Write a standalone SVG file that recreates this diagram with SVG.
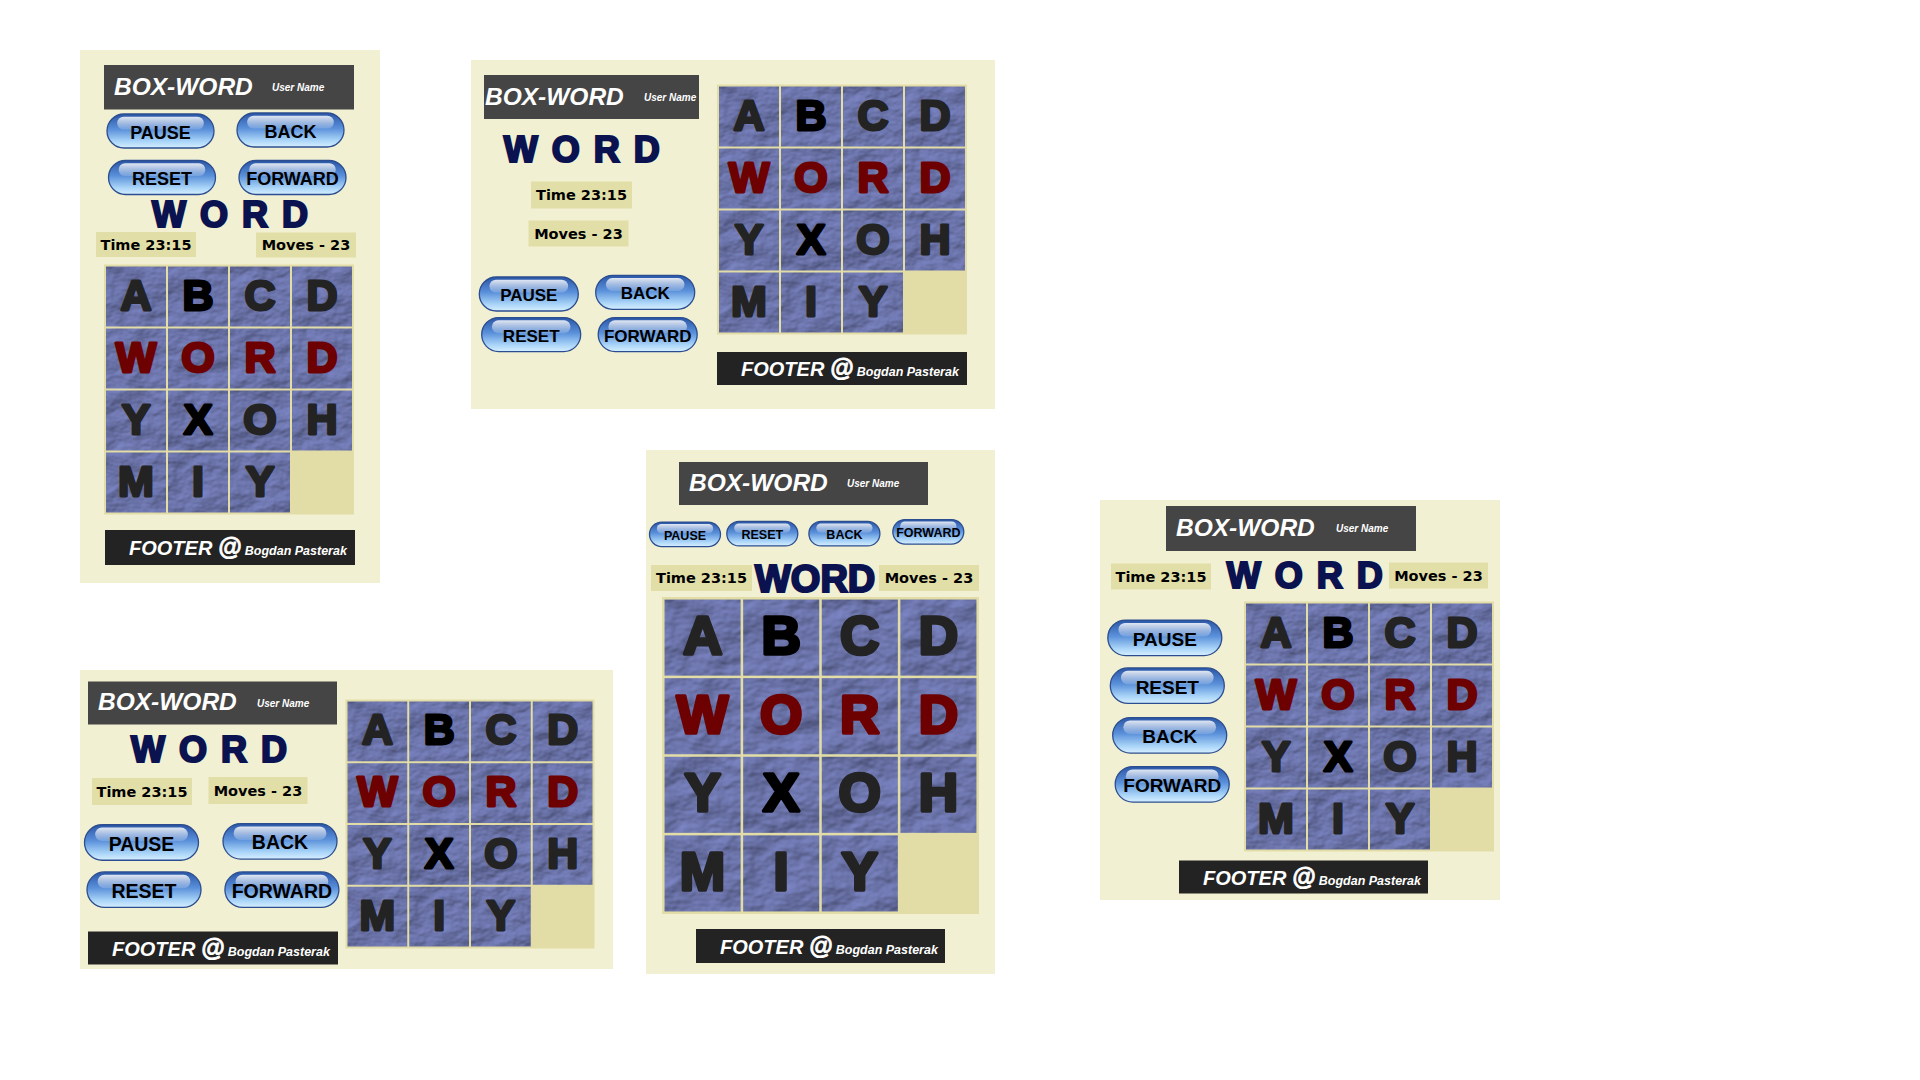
<svg xmlns="http://www.w3.org/2000/svg" width="1920" height="1080" viewBox="0 0 1920 1080">
<style>
.panel{fill:#f2f0d3}
.hdr{fill:#454545}
.ftr{fill:#232323}
.bw{font-family:"Liberation Sans",Arial,sans-serif;font-weight:bold;font-style:italic;fill:#fff;font-size:24.5px}
.un{font-family:"Liberation Sans",Arial,sans-serif;font-weight:bold;font-style:italic;fill:#fff;font-size:10px}
.ft{font-family:"Liberation Sans",Arial,sans-serif;font-weight:bold;font-style:italic;fill:#fff;font-size:20px}
.ft .at{font-size:24px;stroke:#fff;stroke-width:0.8}
.ft .nm{font-size:12.5px}
.info{fill:#e2dea8}
.it{font-family:"DejaVu Sans",Verdana,sans-serif;font-weight:bold;font-size:14.5px;fill:#000;text-anchor:middle}
.title{font-family:"Liberation Sans",Arial,sans-serif;font-weight:bold;fill:#0b1250;stroke:#0b1250;stroke-width:2.2;font-size:36px;letter-spacing:14px}
.bb{fill:url(#btnBody);stroke:#2c4d8f;stroke-width:1.3}
.bh{fill:url(#btnHi)}
.bl{font-family:"Liberation Sans",Arial,sans-serif;font-weight:bold;fill:#000;text-anchor:middle}
.gbg{fill:#e2dda6}
.cell{fill:#6c77b0}
.t{font-family:"Liberation Sans",Arial,sans-serif;font-weight:bold;font-size:43px;text-anchor:middle;fill:#232323;stroke:#232323;stroke-width:2.8;stroke-linejoin:round}
.k{fill:#000;stroke:#000}
.r{fill:#6d0000;stroke:#6d0000}
</style>
<defs>
<linearGradient id="btnBody" x1="0" y1="0" x2="0" y2="1">
<stop offset="0" stop-color="#2a56a6"/>
<stop offset="0.45" stop-color="#5a90da"/>
<stop offset="0.8" stop-color="#a9d4f8"/>
<stop offset="1" stop-color="#d6efff"/>
</linearGradient>
<linearGradient id="btnHi" x1="0" y1="0" x2="0" y2="1">
<stop offset="0" stop-color="#ffffff" stop-opacity="0.85"/>
<stop offset="1" stop-color="#ffffff" stop-opacity="0.15"/>
</linearGradient>
<filter id="stone" x="0" y="0" width="1" height="1" color-interpolation-filters="sRGB">
<feTurbulence type="fractalNoise" baseFrequency="0.028 0.04" numOctaves="4" seed="7" result="n"/>
<feDiffuseLighting in="n" surfaceScale="3" diffuseConstant="1" lighting-color="#7d87c6" result="lit">
<feDistantLight azimuth="235" elevation="58"/>
</feDiffuseLighting>
<feComposite in="lit" in2="SourceGraphic" operator="in"/>
</filter>
</defs>
<rect width="1920" height="1080" fill="#ffffff"/>

<!-- PANEL 1 -->
<g id="panel-1">
<rect class="panel" x="80" y="50" width="300" height="533"/>
<g id="p1-header"><rect class="hdr" x="104" y="65" width="250" height="44.5"/>
<text class="bw" x="114" y="94.5">BOX-WORD</text><text class="un" x="272" y="91">User Name</text></g>
<g id="p1-buttons">
<g transform="translate(160.5 131)"><rect class="bb" x="-53.5" y="-17" width="107" height="34" rx="17"/><rect class="bh" x="-43.3" y="-14.3" width="86.6" height="12.9" rx="6.45"/><text class="bl" y="7.5" font-size="18">PAUSE</text></g>
<g transform="translate(290.5 130)"><rect class="bb" x="-53.5" y="-17" width="107" height="34" rx="17"/><rect class="bh" x="-43.3" y="-14.3" width="86.6" height="12.9" rx="6.45"/><text class="bl" y="7.5" font-size="18">BACK</text></g>
<g transform="translate(162 177.5)"><rect class="bb" x="-53.5" y="-17" width="107" height="34" rx="17"/><rect class="bh" x="-43.3" y="-14.3" width="86.6" height="12.9" rx="6.45"/><text class="bl" y="7.5" font-size="18">RESET</text></g>
<g transform="translate(292.5 177.5)"><rect class="bb" x="-53.5" y="-17" width="107" height="34" rx="17"/><rect class="bh" x="-43.3" y="-14.3" width="86.6" height="12.9" rx="6.45"/><text class="bl" y="7.5" font-size="18">FORWARD</text></g>
</g>
<text class="title" x="152" y="226.5">WORD</text>
<rect class="info" x="96" y="232" width="100" height="25"/><text class="it" x="146" y="249.5">Time 23:15</text>
<rect class="info" x="256" y="232.5" width="100" height="25"/><text class="it" x="306" y="250">Moves - 23</text>
<g id="p1-grid" transform="translate(104 264.5)">
<rect class="gbg" width="250" height="250"/>
<g filter="url(#stone)">
<rect class="cell" x="2" y="2" width="60" height="60"/><rect class="cell" x="64" y="2" width="60" height="60"/><rect class="cell" x="126" y="2" width="60" height="60"/><rect class="cell" x="188" y="2" width="60" height="60"/>
<rect class="cell" x="2" y="64" width="60" height="60"/><rect class="cell" x="64" y="64" width="60" height="60"/><rect class="cell" x="126" y="64" width="60" height="60"/><rect class="cell" x="188" y="64" width="60" height="60"/>
<rect class="cell" x="2" y="126" width="60" height="60"/><rect class="cell" x="64" y="126" width="60" height="60"/><rect class="cell" x="126" y="126" width="60" height="60"/><rect class="cell" x="188" y="126" width="60" height="60"/>
<rect class="cell" x="2" y="188" width="60" height="60"/><rect class="cell" x="64" y="188" width="60" height="60"/><rect class="cell" x="126" y="188" width="60" height="60"/>
</g>
<text class="t" x="32" y="45">A</text><text class="t k" x="94" y="45">B</text><text class="t" x="156" y="45">C</text><text class="t" x="218" y="45">D</text>
<text class="t r" x="32" y="107">W</text><text class="t r" x="94" y="107">O</text><text class="t r" x="156" y="107">R</text><text class="t r" x="218" y="107">D</text>
<text class="t" x="32" y="169">Y</text><text class="t k" x="94" y="169">X</text><text class="t" x="156" y="169">O</text><text class="t" x="218" y="169">H</text>
<text class="t" x="32" y="231">M</text><text class="t" x="94" y="231">I</text><text class="t" x="156" y="231">Y</text>
</g>
<g id="p1-footer"><rect class="ftr" x="105" y="530" width="250" height="35"/>
<text class="ft" x="129" y="555">FOOTER <tspan class="at">@</tspan><tspan class="nm"> Bogdan Pasterak</tspan></text></g>
</g>

<!-- PANEL 2 -->
<g id="panel-2">
<rect class="panel" x="471" y="60" width="524" height="349"/>
<g id="p2-header"><rect class="hdr" x="484" y="75" width="215" height="44"/>
<text class="bw" x="485" y="104.5">BOX-WORD</text><text class="un" x="644" y="101">User Name</text></g>
<text class="title" x="503.7" y="161.8">WORD</text>
<rect class="info" x="531" y="181.5" width="101" height="27"/><text class="it" x="581.5" y="200">Time 23:15</text>
<rect class="info" x="528.5" y="220.5" width="100" height="26"/><text class="it" x="578.5" y="238.5">Moves - 23</text>
<g id="p2-buttons">
<g transform="translate(528.8 294)"><rect class="bb" x="-49.5" y="-17" width="99" height="34" rx="17"/><rect class="bh" x="-39.3" y="-14.3" width="78.6" height="12.9" rx="6.45"/><text class="bl" y="7.1" font-size="17">PAUSE</text></g>
<g transform="translate(645.2 292.3)"><rect class="bb" x="-49.5" y="-17" width="99" height="34" rx="17"/><rect class="bh" x="-39.3" y="-14.3" width="78.6" height="12.9" rx="6.45"/><text class="bl" y="7.1" font-size="17">BACK</text></g>
<g transform="translate(531.2 334.6)"><rect class="bb" x="-49.5" y="-17" width="99" height="34" rx="17"/><rect class="bh" x="-39.3" y="-14.3" width="78.6" height="12.9" rx="6.45"/><text class="bl" y="7.1" font-size="17">RESET</text></g>
<g transform="translate(647.7 334.6)"><rect class="bb" x="-49.5" y="-17" width="99" height="34" rx="17"/><rect class="bh" x="-39.3" y="-14.3" width="78.6" height="12.9" rx="6.45"/><text class="bl" y="7.1" font-size="17">FORWARD</text></g>
</g>
<g id="p2-grid" transform="translate(717 84.5)">
<rect class="gbg" width="250" height="250"/>
<g filter="url(#stone)">
<rect class="cell" x="2" y="2" width="60" height="60"/><rect class="cell" x="64" y="2" width="60" height="60"/><rect class="cell" x="126" y="2" width="60" height="60"/><rect class="cell" x="188" y="2" width="60" height="60"/>
<rect class="cell" x="2" y="64" width="60" height="60"/><rect class="cell" x="64" y="64" width="60" height="60"/><rect class="cell" x="126" y="64" width="60" height="60"/><rect class="cell" x="188" y="64" width="60" height="60"/>
<rect class="cell" x="2" y="126" width="60" height="60"/><rect class="cell" x="64" y="126" width="60" height="60"/><rect class="cell" x="126" y="126" width="60" height="60"/><rect class="cell" x="188" y="126" width="60" height="60"/>
<rect class="cell" x="2" y="188" width="60" height="60"/><rect class="cell" x="64" y="188" width="60" height="60"/><rect class="cell" x="126" y="188" width="60" height="60"/>
</g>
<text class="t" x="32" y="45">A</text><text class="t k" x="94" y="45">B</text><text class="t" x="156" y="45">C</text><text class="t" x="218" y="45">D</text>
<text class="t r" x="32" y="107">W</text><text class="t r" x="94" y="107">O</text><text class="t r" x="156" y="107">R</text><text class="t r" x="218" y="107">D</text>
<text class="t" x="32" y="169">Y</text><text class="t k" x="94" y="169">X</text><text class="t" x="156" y="169">O</text><text class="t" x="218" y="169">H</text>
<text class="t" x="32" y="231">M</text><text class="t" x="94" y="231">I</text><text class="t" x="156" y="231">Y</text>
</g>
<g id="p2-footer"><rect class="ftr" x="717" y="352" width="250" height="33"/>
<text class="ft" x="741" y="376">FOOTER <tspan class="at">@</tspan><tspan class="nm"> Bogdan Pasterak</tspan></text></g>
</g>

<!-- PANEL 3 -->
<g id="panel-3">
<rect class="panel" x="80" y="670" width="533" height="299"/>
<g id="p3-header"><rect class="hdr" x="88" y="681.5" width="249" height="43"/>
<text class="bw" x="98" y="710">BOX-WORD</text><text class="un" x="257" y="707">User Name</text></g>
<text class="title" x="131" y="762.3">WORD</text>
<rect class="info" x="92" y="778" width="100" height="27"/><text class="it" x="142" y="796.5">Time 23:15</text>
<rect class="info" x="208.5" y="777" width="99" height="27"/><text class="it" x="258" y="795.5">Moves - 23</text>
<g id="p3-buttons">
<g transform="translate(141.5 842.5)"><rect class="bb" x="-57" y="-17.75" width="114" height="35.5" rx="17.75"/><rect class="bh" x="-46.35" y="-14.91" width="92.7" height="13.49" rx="6.75"/><text class="bl" y="8" font-size="19.5">PAUSE</text></g>
<g transform="translate(280 841.3)"><rect class="bb" x="-57" y="-17.75" width="114" height="35.5" rx="17.75"/><rect class="bh" x="-46.35" y="-14.91" width="92.7" height="13.49" rx="6.75"/><text class="bl" y="8" font-size="19.5">BACK</text></g>
<g transform="translate(144 889.7)"><rect class="bb" x="-57" y="-17.75" width="114" height="35.5" rx="17.75"/><rect class="bh" x="-46.35" y="-14.91" width="92.7" height="13.49" rx="6.75"/><text class="bl" y="8" font-size="19.5">RESET</text></g>
<g transform="translate(281.9 889.7)"><rect class="bb" x="-57" y="-17.75" width="114" height="35.5" rx="17.75"/><rect class="bh" x="-46.35" y="-14.91" width="92.7" height="13.49" rx="6.75"/><text class="bl" y="8" font-size="19.5">FORWARD</text></g>
</g>
<g id="p3-grid" transform="translate(345.5 699.5) scale(0.996)">
<rect class="gbg" width="250" height="250"/>
<g filter="url(#stone)">
<rect class="cell" x="2" y="2" width="60" height="60"/><rect class="cell" x="64" y="2" width="60" height="60"/><rect class="cell" x="126" y="2" width="60" height="60"/><rect class="cell" x="188" y="2" width="60" height="60"/>
<rect class="cell" x="2" y="64" width="60" height="60"/><rect class="cell" x="64" y="64" width="60" height="60"/><rect class="cell" x="126" y="64" width="60" height="60"/><rect class="cell" x="188" y="64" width="60" height="60"/>
<rect class="cell" x="2" y="126" width="60" height="60"/><rect class="cell" x="64" y="126" width="60" height="60"/><rect class="cell" x="126" y="126" width="60" height="60"/><rect class="cell" x="188" y="126" width="60" height="60"/>
<rect class="cell" x="2" y="188" width="60" height="60"/><rect class="cell" x="64" y="188" width="60" height="60"/><rect class="cell" x="126" y="188" width="60" height="60"/>
</g>
<text class="t" x="32" y="45">A</text><text class="t k" x="94" y="45">B</text><text class="t" x="156" y="45">C</text><text class="t" x="218" y="45">D</text>
<text class="t r" x="32" y="107">W</text><text class="t r" x="94" y="107">O</text><text class="t r" x="156" y="107">R</text><text class="t r" x="218" y="107">D</text>
<text class="t" x="32" y="169">Y</text><text class="t k" x="94" y="169">X</text><text class="t" x="156" y="169">O</text><text class="t" x="218" y="169">H</text>
<text class="t" x="32" y="231">M</text><text class="t" x="94" y="231">I</text><text class="t" x="156" y="231">Y</text>
</g>
<g id="p3-footer"><rect class="ftr" x="88" y="931.5" width="250" height="33"/>
<text class="ft" x="112" y="955.5">FOOTER <tspan class="at">@</tspan><tspan class="nm"> Bogdan Pasterak</tspan></text></g>
</g>

<!-- PANEL 4 -->
<g id="panel-4">
<rect class="panel" x="646" y="450" width="349" height="524"/>
<g id="p4-header"><rect class="hdr" x="679" y="462" width="249" height="43"/>
<text class="bw" x="689" y="490.5">BOX-WORD</text><text class="un" x="847" y="487">User Name</text></g>
<g id="p4-buttons">
<g transform="translate(685 534.3)"><rect class="bb" x="-35.5" y="-12.25" width="71" height="24.5" rx="12.25"/><rect class="bh" x="-28.15" y="-10.29" width="56.3" height="9.31" rx="4.66"/><text class="bl" y="5.5" font-size="12.5">PAUSE</text></g>
<g transform="translate(762.3 533.7)"><rect class="bb" x="-35.5" y="-12.25" width="71" height="24.5" rx="12.25"/><rect class="bh" x="-28.15" y="-10.29" width="56.3" height="9.31" rx="4.66"/><text class="bl" y="5.5" font-size="12.5">RESET</text></g>
<g transform="translate(844.4 533.7)"><rect class="bb" x="-35.5" y="-12.25" width="71" height="24.5" rx="12.25"/><rect class="bh" x="-28.15" y="-10.29" width="56.3" height="9.31" rx="4.66"/><text class="bl" y="5.5" font-size="12.5">BACK</text></g>
<g transform="translate(928.3 531.8)"><rect class="bb" x="-35.5" y="-12.25" width="71" height="24.5" rx="12.25"/><rect class="bh" x="-28.15" y="-10.29" width="56.3" height="9.31" rx="4.66"/><text class="bl" y="5.5" font-size="12.5">FORWARD</text></g>
</g>
<rect class="info" x="651" y="565" width="101" height="26"/><text class="it" x="701.5" y="583">Time 23:15</text>
<text class="title" x="755" y="592" style="font-size:38px;letter-spacing:0">WORD</text>
<rect class="info" x="879" y="565" width="100" height="26"/><text class="it" x="929" y="583">Moves - 23</text>
<g id="p4-grid" transform="translate(662 597) scale(1.268)">
<rect class="gbg" width="250" height="250"/>
<g filter="url(#stone)">
<rect class="cell" x="2" y="2" width="60" height="60"/><rect class="cell" x="64" y="2" width="60" height="60"/><rect class="cell" x="126" y="2" width="60" height="60"/><rect class="cell" x="188" y="2" width="60" height="60"/>
<rect class="cell" x="2" y="64" width="60" height="60"/><rect class="cell" x="64" y="64" width="60" height="60"/><rect class="cell" x="126" y="64" width="60" height="60"/><rect class="cell" x="188" y="64" width="60" height="60"/>
<rect class="cell" x="2" y="126" width="60" height="60"/><rect class="cell" x="64" y="126" width="60" height="60"/><rect class="cell" x="126" y="126" width="60" height="60"/><rect class="cell" x="188" y="126" width="60" height="60"/>
<rect class="cell" x="2" y="188" width="60" height="60"/><rect class="cell" x="64" y="188" width="60" height="60"/><rect class="cell" x="126" y="188" width="60" height="60"/>
</g>
<text class="t" x="32" y="45">A</text><text class="t k" x="94" y="45">B</text><text class="t" x="156" y="45">C</text><text class="t" x="218" y="45">D</text>
<text class="t r" x="32" y="107">W</text><text class="t r" x="94" y="107">O</text><text class="t r" x="156" y="107">R</text><text class="t r" x="218" y="107">D</text>
<text class="t" x="32" y="169">Y</text><text class="t k" x="94" y="169">X</text><text class="t" x="156" y="169">O</text><text class="t" x="218" y="169">H</text>
<text class="t" x="32" y="231">M</text><text class="t" x="94" y="231">I</text><text class="t" x="156" y="231">Y</text>
</g>
<g id="p4-footer"><rect class="ftr" x="696" y="929" width="249" height="34"/>
<text class="ft" x="720" y="953.5">FOOTER <tspan class="at">@</tspan><tspan class="nm"> Bogdan Pasterak</tspan></text></g>
</g>

<!-- PANEL 5 -->
<g id="panel-5">
<rect class="panel" x="1100" y="500" width="400" height="400"/>
<g id="p5-header"><rect class="hdr" x="1166" y="506" width="250" height="45"/>
<text class="bw" x="1176" y="535.5">BOX-WORD</text><text class="un" x="1336" y="532">User Name</text></g>
<rect class="info" x="1111" y="563.5" width="100" height="26"/><text class="it" x="1161" y="581.5">Time 23:15</text>
<text class="title" x="1226.7" y="588">WORD</text>
<rect class="info" x="1389" y="562.5" width="99" height="26"/><text class="it" x="1438.5" y="580.5">Moves - 23</text>
<g id="p5-buttons">
<g transform="translate(1164.8 637.8)"><rect class="bb" x="-57" y="-17.75" width="114" height="35.5" rx="17.75"/><rect class="bh" x="-46.35" y="-14.91" width="92.7" height="13.49" rx="6.75"/><text class="bl" y="7.8" font-size="19">PAUSE</text></g>
<g transform="translate(1167.3 685.7)"><rect class="bb" x="-57" y="-17.75" width="114" height="35.5" rx="17.75"/><rect class="bh" x="-46.35" y="-14.91" width="92.7" height="13.49" rx="6.75"/><text class="bl" y="7.8" font-size="19">RESET</text></g>
<g transform="translate(1169.7 735.3)"><rect class="bb" x="-57" y="-17.75" width="114" height="35.5" rx="17.75"/><rect class="bh" x="-46.35" y="-14.91" width="92.7" height="13.49" rx="6.75"/><text class="bl" y="7.8" font-size="19">BACK</text></g>
<g transform="translate(1172.2 784.3)"><rect class="bb" x="-57" y="-17.75" width="114" height="35.5" rx="17.75"/><rect class="bh" x="-46.35" y="-14.91" width="92.7" height="13.49" rx="6.75"/><text class="bl" y="7.8" font-size="19">FORWARD</text></g>
</g>
<g id="p5-grid" transform="translate(1244 601.5)">
<rect class="gbg" width="250" height="250"/>
<g filter="url(#stone)">
<rect class="cell" x="2" y="2" width="60" height="60"/><rect class="cell" x="64" y="2" width="60" height="60"/><rect class="cell" x="126" y="2" width="60" height="60"/><rect class="cell" x="188" y="2" width="60" height="60"/>
<rect class="cell" x="2" y="64" width="60" height="60"/><rect class="cell" x="64" y="64" width="60" height="60"/><rect class="cell" x="126" y="64" width="60" height="60"/><rect class="cell" x="188" y="64" width="60" height="60"/>
<rect class="cell" x="2" y="126" width="60" height="60"/><rect class="cell" x="64" y="126" width="60" height="60"/><rect class="cell" x="126" y="126" width="60" height="60"/><rect class="cell" x="188" y="126" width="60" height="60"/>
<rect class="cell" x="2" y="188" width="60" height="60"/><rect class="cell" x="64" y="188" width="60" height="60"/><rect class="cell" x="126" y="188" width="60" height="60"/>
</g>
<text class="t" x="32" y="45">A</text><text class="t k" x="94" y="45">B</text><text class="t" x="156" y="45">C</text><text class="t" x="218" y="45">D</text>
<text class="t r" x="32" y="107">W</text><text class="t r" x="94" y="107">O</text><text class="t r" x="156" y="107">R</text><text class="t r" x="218" y="107">D</text>
<text class="t" x="32" y="169">Y</text><text class="t k" x="94" y="169">X</text><text class="t" x="156" y="169">O</text><text class="t" x="218" y="169">H</text>
<text class="t" x="32" y="231">M</text><text class="t" x="94" y="231">I</text><text class="t" x="156" y="231">Y</text>
</g>
<g id="p5-footer"><rect class="ftr" x="1179" y="860.5" width="249" height="33"/>
<text class="ft" x="1203" y="884.5">FOOTER <tspan class="at">@</tspan><tspan class="nm"> Bogdan Pasterak</tspan></text></g>
</g>
</svg>
